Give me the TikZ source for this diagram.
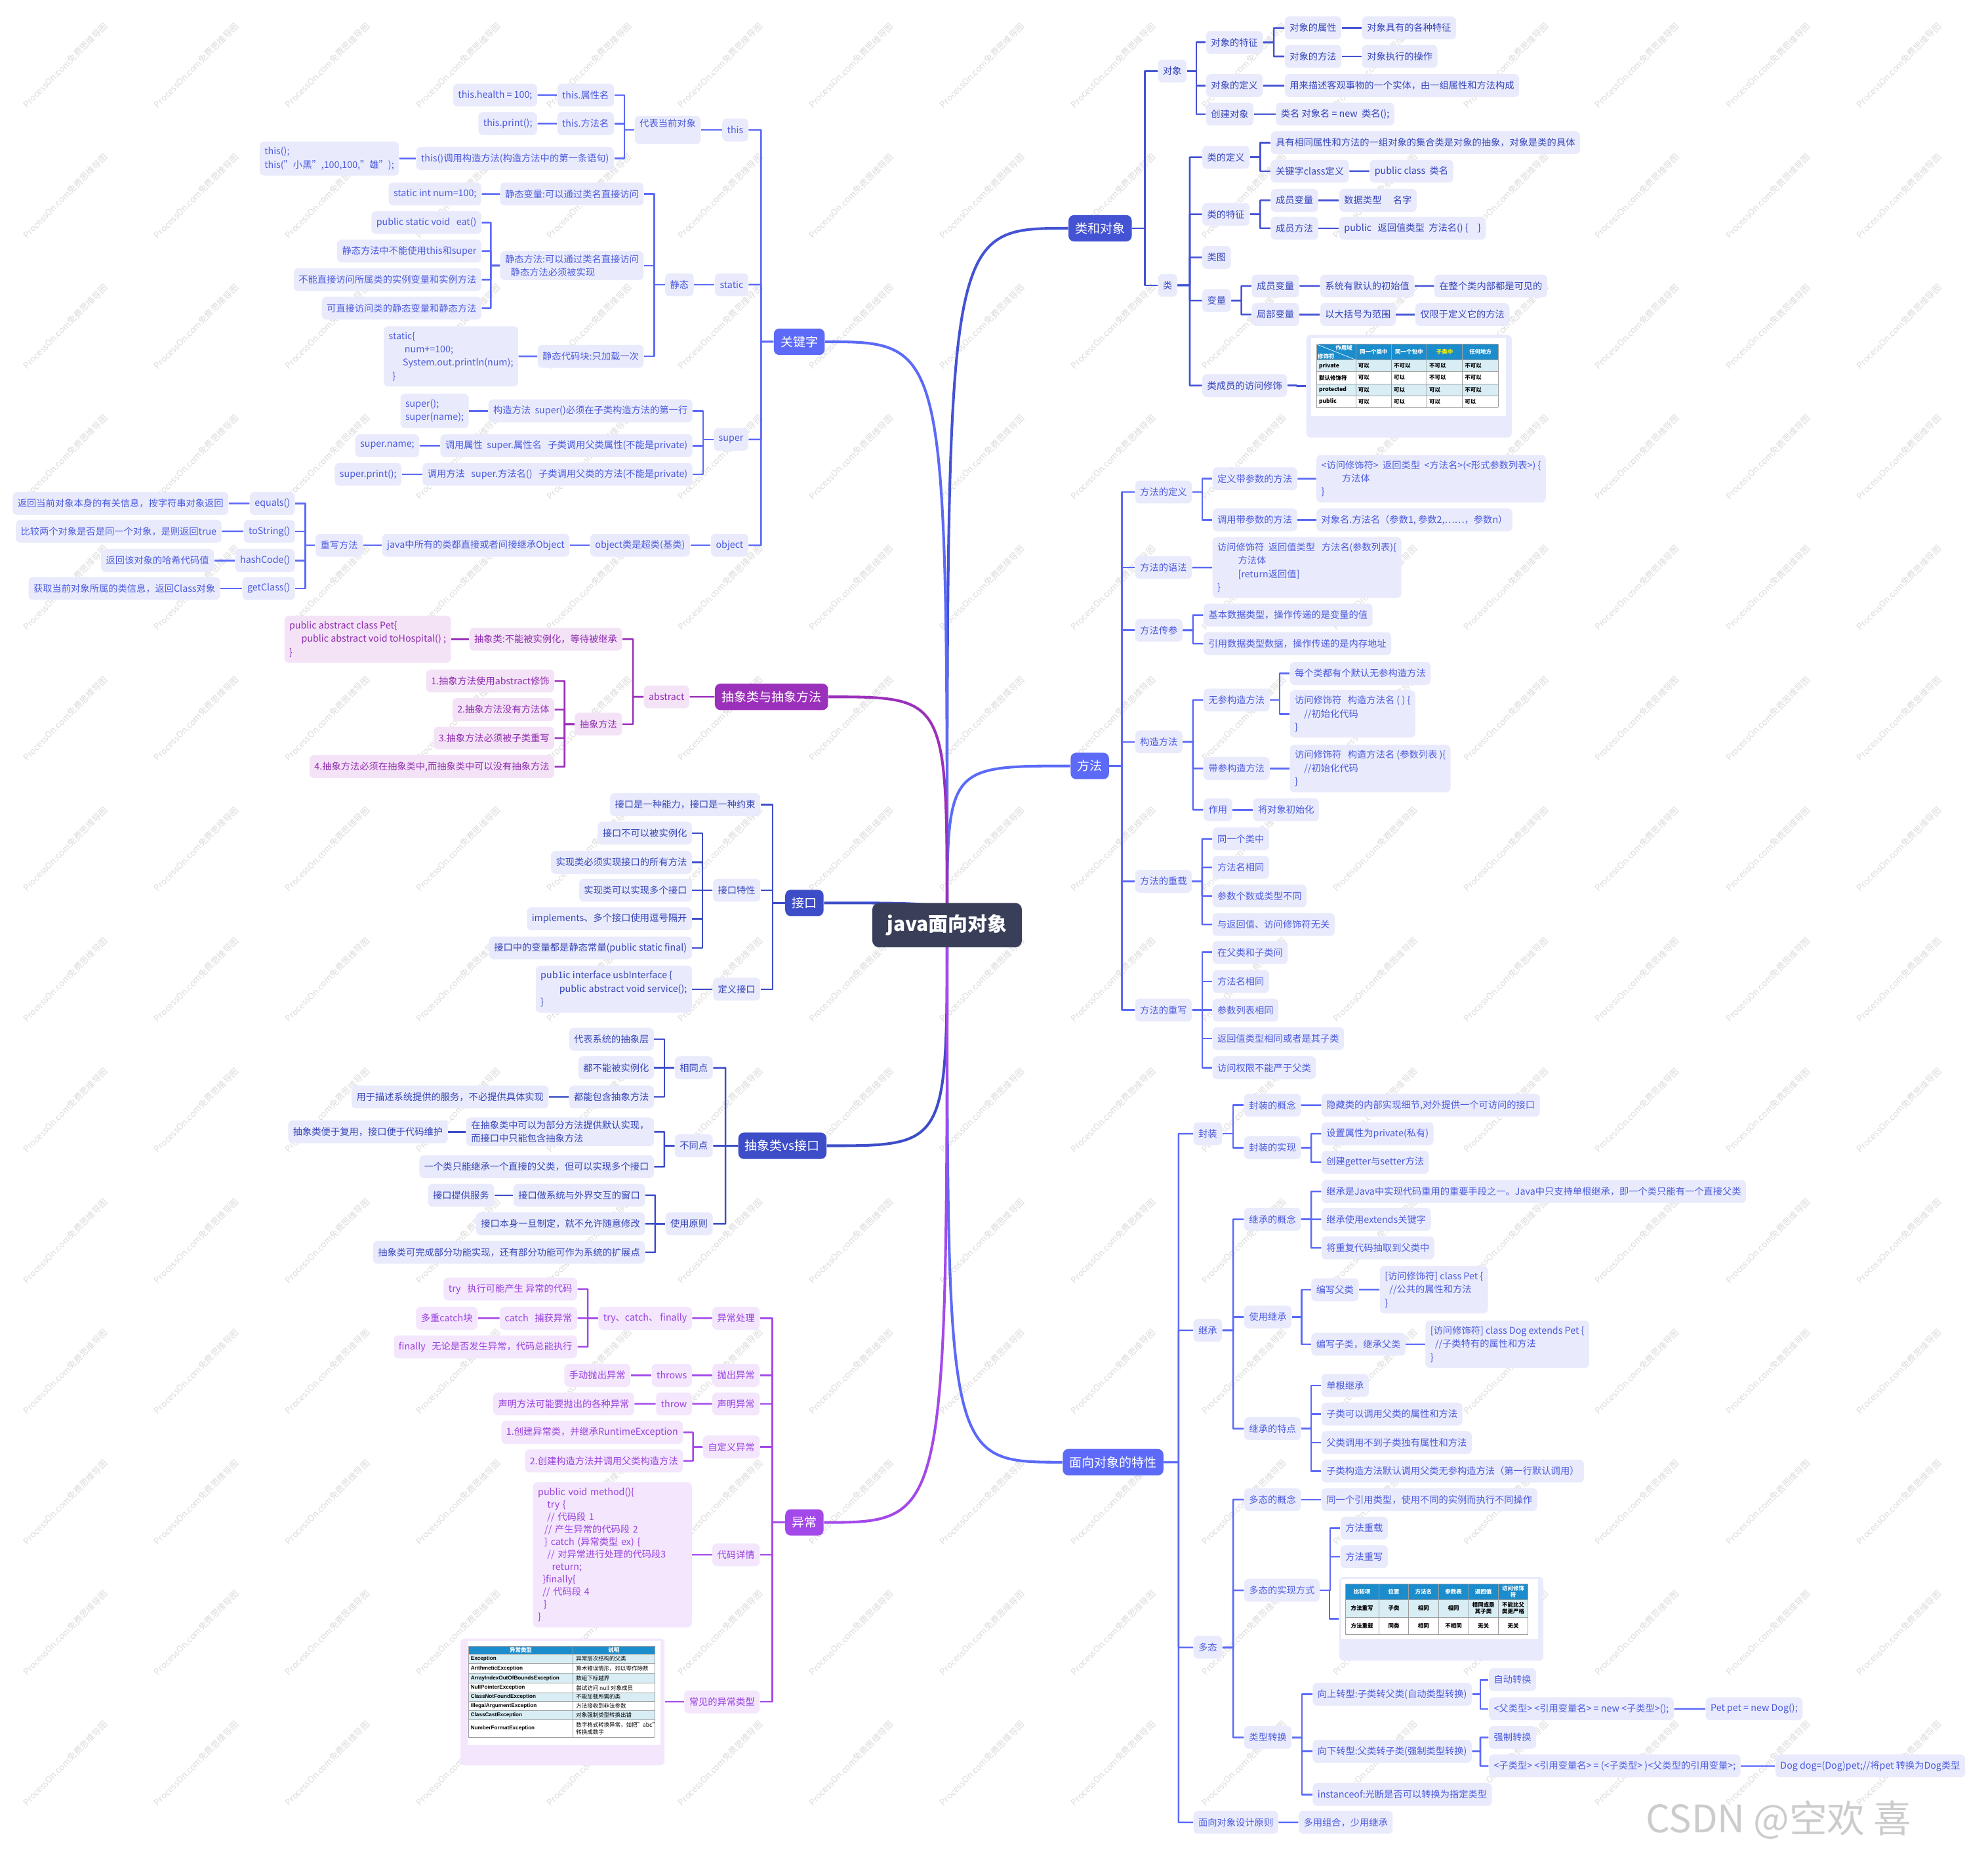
\documentclass[tikz,border=0pt]{standalone}
\usepackage{fontspec}
\setmainfont{Noto Sans CJK SC}
\newfontfamily\tabfont{Liberation Sans}
\usetikzlibrary{calc,backgrounds}

\definecolor{rootbg}{HTML}{3A3F59}
\definecolor{clsln}{HTML}{4453D3}
\definecolor{litln}{HTML}{5C6AF7}
\definecolor{drkln}{HTML}{3D4DC8}
\definecolor{absln}{HTML}{9B30BA}
\definecolor{excln}{HTML}{A449E9}
\definecolor{blubg}{HTML}{E9EBFC}
\definecolor{absbg}{HTML}{F4E3F7}
\definecolor{excbg}{HTML}{F3E6FD}
\definecolor{clstx}{HTML}{3543BA}
\definecolor{littx}{HTML}{4C5ADE}
\definecolor{drktx}{HTML}{3644B8}
\definecolor{abstx}{HTML}{8E2BAE}
\definecolor{exctx}{HTML}{9A41DD}
\definecolor{tabhd}{HTML}{1B8DCC}
\definecolor{tabrow}{HTML}{D8EDF4}
\definecolor{wmark}{HTML}{DCDCDC}

% elbow links between named nodes
\newcommand\linkR[2]{\draw[lk] (#1.east) -- ($(#1.east)!.5!(#1.east -| #2.west)$) |- (#2.west);}
\newcommand\linkL[2]{\draw[lk] (#1.west) -- ($(#1.west)!.5!(#1.west -| #2.east)$) |- (#2.east);}

\begin{document}
\begin{tikzpicture}[x=0.02cm,y=-0.02cm,
  nd/.style={rounded corners=2pt,inner xsep=2.2pt,inner ysep=1.5pt,minimum height=0.36cm,align=left,font=\fontsize{4.2}{6}\selectfont},
  cd/.style={nd,inner ysep=2.5pt},
  aw/.style={anchor=west},ae/.style={anchor=east},
  hd/.style={rounded corners=2.5pt,text=white,minimum height=0.39cm,inner xsep=3pt,font=\fontsize{5.6}{6.6}\selectfont},
  lk/.style={line width=0.75pt,line join=round},
  crv/.style={line width=1.2pt},
  box/.style={inner sep=0pt,rounded corners=2pt},
  tb/.style={inner sep=0pt,align=center,text=black,font=\fontsize{2.5}{3}\selectfont\bfseries},
  grd/.style={draw=gray!75,line width=0.2pt}]
\useasboundingbox (0,0) rectangle (1568,1460);

\node[fill=rootbg,text=white,rounded corners=3pt,minimum width=2.36cm,minimum height=0.7cm,font=\fontsize{8.8}{10}\selectfont\bfseries] (root) at (747,729.5) {java面向对象};

% 类和对象
\begin{scope}[every node/.append style={fill=blubg,text=clstx},lk/.append style={draw=clsln}]
\node[hd,fill=clsln,anchor=east] (lo) at (893,180) {类和对象};
\node[nd,aw] (lo1) at (913,56) {对象};
\node[nd,aw] (lo11) at (951,33.5) {对象的特征};
\node[nd,aw] (lo111) at (1013,22) {对象的属性};
\node[nd,aw] (lo1111) at (1074,22) {对象具有的各种特征};
\node[nd,aw] (lo112) at (1013,44.5) {对象的方法};
\node[nd,aw] (lo1121) at (1074,44.5) {对象执行的操作};
\node[nd,aw] (lo12) at (951,67.5) {对象的定义};
\node[nd,aw] (lo121) at (1013,67.5) {用来描述客观事物的一个实体，由一组属性和方法构成};
\node[nd,aw] (lo13) at (951,90) {创建对象};
\node[nd,aw] (lo131) at (1006,90) {类名 对象名 = new\ \ 类名();};
\node[nd,aw] (lo2) at (913,225) {类};
\node[nd,aw] (lo21) at (948,124) {类的定义};
\node[nd,aw] (lo211) at (1002,112.5) {具有相同属性和方法的一组对象的集合类是对象的抽象，对象是类的具体};
\node[nd,aw] (lo212) at (1002,135) {关键字class定义};
\node[nd,aw] (lo2121) at (1080,135) {public class\ \ 类名};
\node[nd,aw] (lo22) at (948,169) {类的特征};
\node[nd,aw] (lo221) at (1002,158) {成员变量};
\node[nd,aw] (lo2211) at (1056,158) {数据类型\quad\ 名字};
\node[nd,aw] (lo222) at (1002,180) {成员方法};
\node[nd,aw] (lo2221) at (1056,180) {public\ \ \ 返回值类型\ \ 方法名() \{\quad \}};
\node[nd,aw] (lo23) at (948,203) {类图};
\node[nd,aw] (lo24) at (948,237) {变量};
\node[nd,aw] (lo241) at (987,225.5) {成员变量};
\node[nd,aw] (lo2411) at (1041,225.5) {系统有默认的初始值};
\node[nd,aw] (lo2412) at (1131,225.5) {在整个类内部都是可见的};
\node[nd,aw] (lo242) at (987,248) {局部变量};
\node[nd,aw] (lo2421) at (1041,248) {以大括号为范围};
\node[nd,aw] (lo2422) at (1116,248) {仅限于定义它的方法};
\node[nd,aw] (lo25) at (948,304) {类成员的访问修饰};
\node[box,aw,minimum width=3.24cm,minimum height=1.62cm] (lo251) at (1030,304.5) {};
\linkR{lo}{lo1} \linkR{lo}{lo2}
\linkR{lo1}{lo11} \linkR{lo1}{lo12} \linkR{lo1}{lo13}
\linkR{lo11}{lo111} \linkR{lo11}{lo112}
\linkR{lo111}{lo1111} \linkR{lo112}{lo1121} \linkR{lo12}{lo121} \linkR{lo13}{lo131}
\linkR{lo2}{lo21} \linkR{lo2}{lo22} \linkR{lo2}{lo23} \linkR{lo2}{lo24} \linkR{lo2}{lo25}
\linkR{lo21}{lo211} \linkR{lo21}{lo212} \linkR{lo212}{lo2121}
\linkR{lo22}{lo221} \linkR{lo22}{lo222} \linkR{lo221}{lo2211} \linkR{lo222}{lo2221}
\linkR{lo24}{lo241} \linkR{lo24}{lo242} \linkR{lo241}{lo2411} \linkR{lo2411}{lo2412}
\linkR{lo242}{lo2421} \linkR{lo2421}{lo2422}
\linkR{lo25}{lo251}
\end{scope}

% 方法
\begin{scope}[every node/.append style={fill=blubg,text=littx},lk/.append style={draw=litln}]
\node[hd,fill=litln,anchor=east] (mf) at (875,604) {方法};
\node[nd,aw] (mf1) at (895,388) {方法的定义};
\node[nd,aw] (mf11) at (956,377.5) {定义带参数的方法};
\node[cd,aw] (mf111) at (1038,377.5) {<访问修饰符>\ \ 返回类型\ \ <方法名>(<形式参数列表>) \{\\\hspace*{2.2em}方法体\\\}};
\node[nd,aw] (mf12) at (956,410) {调用带参数的方法};
\node[nd,aw] (mf121) at (1038,410) {对象名.方法名（参数1, 参数2,……，参数n）};
\node[nd,aw] (mf2) at (895,447.5) {方法的语法};
\node[cd,aw] (mf21) at (956,447.5) {访问修饰符\ \ 返回值类型\ \ \ 方法名(参数列表)\{\\\hspace*{2.2em}方法体\\\hspace*{2.2em}[return返回值]\\\}};
\node[nd,aw] (mf3) at (895,497) {方法传参};
\node[nd,aw] (mf31) at (949,485) {基本数据类型，操作传递的是变量的值};
\node[nd,aw] (mf32) at (949,507.5) {引用数据类型数据，操作传递的是内存地址};
\node[nd,aw] (mf4) at (895,585) {构造方法};
\node[nd,aw] (mf41) at (949,552) {无参构造方法};
\node[nd,aw] (mf411) at (1017,531) {每个类都有个默认无参构造方法};
\node[cd,aw] (mf412) at (1017,563) {访问修饰符\ \ \ 构造方法名 ( ) \{\\\hspace*{1em}//初始化代码\\\}};
\node[nd,aw] (mf42) at (949,606) {带参构造方法};
\node[cd,aw] (mf421) at (1017,606) {访问修饰符\ \ \ 构造方法名 (参数列表 )\{\\\hspace*{1em}//初始化代码\\\}};
\node[nd,aw] (mf43) at (949,638.5) {作用};
\node[nd,aw] (mf431) at (988,638.5) {将对象初始化};
\node[nd,aw] (mf5) at (895,695) {方法的重载};
\node[nd,aw] (mf51) at (956,661.5) {同一个类中};
\node[nd,aw] (mf52) at (956,684) {方法名相同};
\node[nd,aw] (mf53) at (956,706.5) {参数个数或类型不同};
\node[nd,aw] (mf54) at (956,729) {与返回值、访问修饰符无关};
\node[nd,aw] (mf6) at (895,796.5) {方法的重写};
\node[nd,aw] (mf61) at (956,751) {在父类和子类间};
\node[nd,aw] (mf62) at (956,774) {方法名相同};
\node[nd,aw] (mf63) at (956,796.5) {参数列表相同};
\node[nd,aw] (mf64) at (956,819) {返回值类型相同或者是其子类};
\node[nd,aw] (mf65) at (956,842) {访问权限不能严于父类};
\foreach \c in {mf1,mf2,mf3,mf4,mf5,mf6} {\linkR{mf}{\c}}
\linkR{mf1}{mf11} \linkR{mf1}{mf12} \linkR{mf11}{mf111} \linkR{mf12}{mf121}
\linkR{mf2}{mf21}
\linkR{mf3}{mf31} \linkR{mf3}{mf32}
\linkR{mf4}{mf41} \linkR{mf4}{mf42} \linkR{mf4}{mf43}
\linkR{mf41}{mf411} \linkR{mf41}{mf412} \linkR{mf42}{mf421} \linkR{mf43}{mf431}
\foreach \c in {mf51,mf52,mf53,mf54} {\linkR{mf5}{\c}}
\foreach \c in {mf61,mf62,mf63,mf64,mf65} {\linkR{mf6}{\c}}
\end{scope}

% 面向对象的特性
\begin{scope}[every node/.append style={fill=blubg,text=littx},lk/.append style={draw=litln}]
\node[hd,fill=litln,anchor=east] (tx) at (918,1153) {面向对象的特性};
\node[nd,aw] (tx1) at (941,894) {封装};
\node[nd,aw] (tx11) at (981,871.5) {封装的概念};
\node[nd,aw] (tx111) at (1042,871.5) {隐藏类的内部实现细节,对外提供一个可访问的接口};
\node[nd,aw] (tx12) at (981,905) {封装的实现};
\node[nd,aw] (tx121) at (1042,894) {设置属性为private(私有)};
\node[nd,aw] (tx122) at (1042,916.5) {创建getter与setter方法};
\node[nd,aw] (tx2) at (941,1049) {继承};
\node[nd,aw] (tx21) at (981,961.5) {继承的概念};
\node[nd,aw] (tx211) at (1042,939.5) {继承是Java中实现代码重用的重要手段之一。Java中只支持单根继承，即一个类只能有一个直接父类};
\node[nd,aw] (tx212) at (1042,961.5) {继承使用extends关键字};
\node[nd,aw] (tx213) at (1042,984) {将重复代码抽取到父类中};
\node[nd,aw] (tx22) at (981,1038.5) {使用继承};
\node[nd,aw] (tx221) at (1034,1017) {编写父类};
\node[cd,aw] (tx2211) at (1088,1017) {[访问修饰符] class Pet \{\\\hspace*{0.5em}//公共的属性和方法\\\}};
\node[nd,aw] (tx222) at (1034,1060) {编写子类，继承父类};
\node[cd,aw] (tx2221) at (1124,1060) {[访问修饰符] class Dog extends Pet \{\\\hspace*{0.5em}//子类特有的属性和方法\\\}};
\node[nd,aw] (tx23) at (981,1126.5) {继承的特点};
\node[nd,aw] (tx231) at (1042,1092.5) {单根继承};
\node[nd,aw] (tx232) at (1042,1115) {子类可以调用父类的属性和方法};
\node[nd,aw] (tx233) at (1042,1137.5) {父类调用不到子类独有属性和方法};
\node[nd,aw] (tx234) at (1042,1160) {子类构造方法默认调用父类无参构造方法（第一行默认调用）};
\node[nd,aw] (tx3) at (941,1299) {多态};
\node[nd,aw] (tx31) at (981,1182.5) {多态的概念};
\node[nd,aw] (tx311) at (1042,1182.5) {同一个引用类型，使用不同的实例而执行不同操作};
\node[nd,aw] (tx32) at (981,1254) {多态的实现方式};
\node[nd,aw] (tx321) at (1057,1205) {方法重载};
\node[nd,aw] (tx322) at (1057,1227.5) {方法重写};
\node[box,aw,minimum width=3.22cm,minimum height=1.32cm] (tx323) at (1056,1276.5) {};
\node[nd,aw] (tx33) at (981,1370) {类型转换};
\node[nd,aw] (tx331) at (1035,1336) {向上转型:子类转父类(自动类型转换)};
\node[nd,aw] (tx3311) at (1174,1324.5) {自动转换};
\node[nd,aw] (tx3312) at (1174,1347.5) {<父类型> <引用变量名> = new <子类型>();};
\node[nd,aw] (tx3313) at (1345,1347.5) {Pet pet = new Dog();};
\node[nd,aw] (tx332) at (1035,1381) {向下转型:父类转子类(强制类型转换)};
\node[nd,aw] (tx3321) at (1174,1370) {强制转换};
\node[nd,aw] (tx3322) at (1174,1392.5) {<子类型> <引用变量名> = (<子类型> )<父类型的引用变量>;};
\node[nd,aw] (tx3323) at (1400,1392.5) {Dog dog=(Dog)pet;//将pet 转换为Dog类型};
\node[nd,aw] (tx333) at (1035,1415) {instanceof:光断是否可以转换为指定类型};
\node[nd,aw] (tx4) at (941,1437) {面向对象设计原则};
\node[nd,aw] (tx41) at (1024,1437) {多用组合，少用继承};
\foreach \c in {tx1,tx2,tx3,tx4} {\linkR{tx}{\c}}
\linkR{tx1}{tx11} \linkR{tx1}{tx12} \linkR{tx11}{tx111} \linkR{tx12}{tx121} \linkR{tx12}{tx122}
\linkR{tx2}{tx21} \linkR{tx2}{tx22} \linkR{tx2}{tx23}
\linkR{tx21}{tx211} \linkR{tx21}{tx212} \linkR{tx21}{tx213}
\linkR{tx22}{tx221} \linkR{tx22}{tx222} \linkR{tx221}{tx2211} \linkR{tx222}{tx2221}
\foreach \c in {tx231,tx232,tx233,tx234} {\linkR{tx23}{\c}}
\linkR{tx3}{tx31} \linkR{tx3}{tx32} \linkR{tx3}{tx33} \linkR{tx31}{tx311}
\linkR{tx32}{tx321} \linkR{tx32}{tx322} \linkR{tx32}{tx323}
\linkR{tx33}{tx331} \linkR{tx33}{tx332} \linkR{tx33}{tx333}
\linkR{tx331}{tx3311} \linkR{tx331}{tx3312} \linkR{tx3312}{tx3313}
\linkR{tx332}{tx3321} \linkR{tx332}{tx3322} \linkR{tx3322}{tx3323}
\linkR{tx4}{tx41}
\end{scope}

% 关键字
\begin{scope}[every node/.append style={fill=blubg,text=littx},lk/.append style={draw=litln}]
\node[hd,fill=litln,anchor=west] (gj) at (610,269.5) {关键字};
\node[nd,ae] (gj1) at (590.5,102.5) {this};
\node[nd,ae] (gj11) at (553,102.5) {代表当前对象\\\mbox{}};
\node[nd,ae] (gj111) at (484.5,75) {this.属性名};
\node[nd,ae] (gj1111) at (424,75) {this.health = 100;};
\node[nd,ae] (gj112) at (484.5,97.5) {this.方法名};
\node[nd,ae] (gj1121) at (424,97.5) {this.print();};
\node[nd,ae] (gj113) at (484.5,125) {this()调用构造方法(构造方法中的第一条语句)};
\node[cd,ae] (gj1131) at (315,125) {this();\\this("小黑",100,100,"雄");};
\node[nd,ae] (gj2) at (590.5,224.5) {static};
\node[nd,ae] (gj21) at (547.5,224.5) {静态};
\node[nd,ae] (gj211) at (508,153) {静态变量:可以通过类名直接访问};
\node[nd,ae] (gj2111) at (380,153) {static int num=100;};
\node[nd,ae] (gj212) at (508,209.5) {静态方法:可以通过类名直接访问\\\hspace*{0.6em}静态方法必须被实现};
\node[nd,ae] (gj2121) at (380,175.5) {public static void\ \ \ eat()};
\node[nd,ae] (gj2122) at (380,198) {静态方法中不能使用this和super};
\node[nd,ae] (gj2123) at (380,220.5) {不能直接访问所属类的实例变量和实例方法};
\node[nd,ae] (gj2124) at (380,243) {可直接访问类的静态变量和静态方法};
\node[nd,ae] (gj213) at (508,281) {静态代码块:只加载一次};
\node[cd,ae] (gj2131) at (409,281) {static\{\\\hspace*{1.7em}num+=100;\\\hspace*{1.5em}System.out.println(num);\\\hspace*{0.4em}\}};
\node[nd,ae] (gj3) at (590.5,346.5) {super};
\node[nd,ae] (gj31) at (546.5,324) {构造方法\ \ super()必须在子类构造方法的第一行};
\node[cd,ae] (gj311) at (370,324) {super();\\super(name);};
\node[nd,ae] (gj32) at (546.5,351.5) {调用属性\ \ super.属性名\ \ \ 子类调用父类属性(不能是private)};
\node[nd,ae] (gj321) at (331,351.5) {super.name;};
\node[nd,ae] (gj33) at (546.5,374) {调用方法\ \ \ super.方法名()\ \ \ 子类调用父类的方法(不能是private)};
\node[nd,ae] (gj331) at (317,374) {super.print();};
\node[nd,ae] (gj4) at (590.5,430) {object};
\node[nd,ae] (gj41) at (544.5,430) {object类是超类(基类)};
\node[nd,ae] (gj411) at (449.5,430) {java中所有的类都直接或者间接继承Object};
\node[nd,ae] (gj412) at (286.5,430) {重写方法};
\node[nd,ae] (gj4121) at (233,397) {equals()};
\node[nd,ae] (gj4122) at (233,419) {toString()};
\node[nd,ae] (gj4123) at (233,442) {hashCode()};
\node[nd,ae] (gj4124) at (233,464) {getClass()};
\node[nd,ae] (gj4131) at (180.5,397) {返回当前对象本身的有关信息，按字符串对象返回};
\node[nd,ae] (gj4132) at (175,419) {比较两个对象是否是同一个对象，是则返回true};
\node[nd,ae] (gj4133) at (169,442) {返回该对象的哈希代码值};
\node[nd,ae] (gj4134) at (174,464) {获取当前对象所属的类信息，返回Class对象};
\foreach \c in {gj1,gj2,gj3,gj4} {\linkL{gj}{\c}}
\linkL{gj1}{gj11} \linkL{gj11}{gj111} \linkL{gj11}{gj112} \linkL{gj11}{gj113}
\linkL{gj111}{gj1111} \linkL{gj112}{gj1121} \linkL{gj113}{gj1131}
\linkL{gj2}{gj21} \linkL{gj21}{gj211} \linkL{gj21}{gj212} \linkL{gj21}{gj213}
\linkL{gj211}{gj2111} \linkL{gj213}{gj2131}
\foreach \c in {gj2121,gj2122,gj2123,gj2124} {\linkL{gj212}{\c}}
\linkL{gj3}{gj31} \linkL{gj3}{gj32} \linkL{gj3}{gj33}
\linkL{gj31}{gj311} \linkL{gj32}{gj321} \linkL{gj33}{gj331}
\linkL{gj4}{gj41} \linkL{gj41}{gj411} \linkL{gj411}{gj412}
\foreach \k in {1,2,3,4} {\linkL{gj412}{gj412\k} \linkL{gj412\k}{gj413\k}}
\end{scope}

% 抽象类与抽象方法
\begin{scope}[every node/.append style={fill=absbg,text=abstx},lk/.append style={draw=absln}]
\node[hd,fill=absln,anchor=west] (cx) at (563.5,549.5) {抽象类与抽象方法};
\node[nd,ae] (cx1) at (544,549.5) {abstract};
\node[nd,ae] (cx11) at (491,504) {抽象类:不能被实例化，等待被继承};
\node[cd,ae] (cx111) at (356,504) {public abstract class Pet\{\\\hspace*{1.3em}public abstract void toHospital() ;\\\}};
\node[nd,ae] (cx12) at (491,571) {抽象方法};
\node[nd,ae] (cx121) at (437.5,537) {1.抽象方法使用abstract修饰};
\node[nd,ae] (cx122) at (437.5,559.5) {2.抽象方法没有方法体};
\node[nd,ae] (cx123) at (437.5,582) {3.抽象方法必须被子类重写};
\node[nd,ae] (cx124) at (437.5,604.5) {4.抽象方法必须在抽象类中,而抽象类中可以没有抽象方法};
\linkL{cx}{cx1} \linkL{cx1}{cx11} \linkL{cx1}{cx12} \linkL{cx11}{cx111}
\foreach \c in {cx121,cx122,cx123,cx124} {\linkL{cx12}{\c}}
\end{scope}

% 接口
\begin{scope}[every node/.append style={fill=blubg,text=drktx},lk/.append style={draw=drkln}]
\node[hd,fill=drkln,anchor=west] (jk) at (619,712) {接口};
\node[nd,ae] (jk1) at (600,634.5) {接口是一种能力，接口是一种约束};
\node[nd,ae] (jk2) at (600,702) {接口特性};
\node[nd,ae] (jk21) at (546,657) {接口不可以被实例化};
\node[nd,ae] (jk22) at (546,680) {实现类必须实现接口的所有方法};
\node[nd,ae] (jk23) at (546,702) {实现类可以实现多个接口};
\node[nd,ae] (jk24) at (546,724.5) {implements、多个接口使用逗号隔开};
\node[nd,ae] (jk25) at (546,747.5) {接口中的变量都是静态常量(public static final)};
\node[nd,ae] (jk3) at (600,780) {定义接口};
\node[cd,ae] (jk31) at (546,780) {pub1ic interface usbInterface \{\\\hspace*{2em}public abstract void service();\\\}};
\linkL{jk}{jk1} \linkL{jk}{jk2} \linkL{jk}{jk3} \linkL{jk3}{jk31}
\foreach \c in {jk21,jk22,jk23,jk24,jk25} {\linkL{jk2}{\c}}
\end{scope}

% 抽象类vs接口
\begin{scope}[every node/.append style={fill=blubg,text=drktx},lk/.append style={draw=drkln}]
\node[hd,fill=drkln,anchor=west] (vs) at (582,903.5) {抽象类vs接口};
\node[nd,ae] (vs1) at (562.5,842) {相同点};
\node[nd,ae] (vs11) at (516,819.5) {代表系统的抽象层};
\node[nd,ae] (vs12) at (516,842) {都不能被实例化};
\node[nd,ae] (vs13) at (516,865) {都能包含抽象方法};
\node[nd,ae] (vs131) at (433,865) {用于描述系统提供的服务，不必提供具体实现};
\node[nd,ae] (vs2) at (562.5,903.5) {不同点};
\node[nd,ae] (vs21) at (516,892.5) {在抽象类中可以为部分方法提供默认实现，\\而接口中只能包含抽象方法};
\node[nd,ae] (vs211) at (353.5,892.5) {抽象类便于复用，接口便于代码维护};
\node[nd,ae] (vs22) at (516,920) {一个类只能继承一个直接的父类，但可以实现多个接口};
\node[nd,ae] (vs3) at (562.5,965) {使用原则};
\node[nd,ae] (vs31) at (509,942.5) {接口做系统与外界交互的窗口};
\node[nd,ae] (vs311) at (390,942.5) {接口提供服务};
\node[nd,ae] (vs32) at (509,965) {接口本身一旦制定，就不允许随意修改};
\node[nd,ae] (vs33) at (509,987.5) {抽象类可完成部分功能实现，还有部分功能可作为系统的扩展点};
\linkL{vs}{vs1} \linkL{vs}{vs2} \linkL{vs}{vs3}
\linkL{vs1}{vs11} \linkL{vs1}{vs12} \linkL{vs1}{vs13} \linkL{vs13}{vs131}
\linkL{vs2}{vs21} \linkL{vs2}{vs22} \linkL{vs21}{vs211}
\linkL{vs3}{vs31} \linkL{vs3}{vs32} \linkL{vs3}{vs33} \linkL{vs31}{vs311}
\end{scope}

% 异常
\begin{scope}[every node/.append style={fill=excbg,text=exctx},lk/.append style={draw=excln}]
\node[hd,fill=excln,anchor=west] (yc) at (619,1200.5) {异常};
\node[nd,ae] (yc1) at (599.5,1039.5) {异常处理};
\node[nd,ae] (yc11) at (546,1039.5) {try、catch、 finally};
\node[nd,ae] (yc111) at (455.5,1016.5) {try\ \ \ 执行可能产生 异常的代码};
\node[nd,ae] (yc112) at (455.5,1039.5) {catch\ \ \ 捕获异常};
\node[nd,ae] (yc1121) at (377,1039.5) {多重catch块};
\node[nd,ae] (yc113) at (455.5,1062) {finally\ \ \ 无论是否发生异常，代码总能执行};
\node[nd,ae] (yc2) at (599.5,1084.5) {抛出异常};
\node[nd,ae] (yc21) at (546,1084.5) {throws};
\node[nd,ae] (yc211) at (497.5,1084.5) {手动抛出异常};
\node[nd,ae] (yc3) at (599.5,1107) {声明异常};
\node[nd,ae] (yc31) at (546,1107) {throw};
\node[nd,ae] (yc311) at (500.5,1107) {声明方法可能要抛出的各种异常};
\node[nd,ae] (yc4) at (599.5,1141) {自定义异常};
\node[nd,ae] (yc41) at (539,1129.5) {1.创建异常类，并继承RuntimeException};
\node[nd,ae] (yc42) at (539,1152) {2.创建构造方法并调用父类构造方法};
\node[nd,ae] (yc5) at (599.5,1226) {代码详情};
\node[cd,ae,text width=2.35cm,font=\fontsize{4.2}{5.6}\selectfont] (yc51) at (546,1226) {public void method()\{\\\hspace*{1em}try \{\\\hspace*{1em}// 代码段 1\\\hspace*{0.7em}// 产生异常的代码段 2\\\hspace*{0.7em}\} catch (异常类型 ex) \{\\\hspace*{1em}// 对异常进行处理的代码段3\\\hspace*{1.5em}return;\\\hspace*{0.5em}\}finally\{\\\hspace*{0.5em}// 代码段 4\\\hspace*{0.6em}\}\\\}};
\node[nd,ae] (yc6) at (599.5,1342) {常见的异常类型};
\node[box,ae,minimum width=3.22cm,minimum height=2cm] (yc61) at (524.5,1342) {};
\foreach \c in {yc1,yc2,yc3,yc4,yc5,yc6} {\linkL{yc}{\c}}
\linkL{yc1}{yc11} \linkL{yc11}{yc111} \linkL{yc11}{yc112} \linkL{yc11}{yc113} \linkL{yc112}{yc1121}
\linkL{yc2}{yc21} \linkL{yc21}{yc211} \linkL{yc3}{yc31} \linkL{yc31}{yc311}
\linkL{yc4}{yc41} \linkL{yc4}{yc42} \linkL{yc5}{yc51} \linkL{yc6}{yc61}
\end{scope}

% 访问修饰符表
\fill[white] (1034,266.5) rectangle (1188,328);
\fill[tabhd] (1038.5,271.5) rectangle (1181.8,283.8);
\fill[tabrow] (1038.5,283.8) rectangle (1181.8,293.2);
\fill[tabrow] (1038.5,302.6) rectangle (1181.8,312);
\foreach \x in {1038.5,1069.4,1097.4,1125.4,1153.5,1181.8} \draw[grd] (\x,271.5) -- (\x,321.4);
\foreach \y in {271.5,283.8,293.2,302.6,312,321.4} \draw[grd] (1038.5,\y) -- (1181.8,\y);
\draw[grd,draw=white] (1038.5,271.5) -- (1069.4,283.8);
\node[tb,text=white] (ah0a) at (1060,274.5) {作用域};
\node[tb,text=white] (ah0b) at (1046,280.8) {修饰符};
\node[tb,text=white] (ah1) at (1083.4,277.6) {同一个类中};
\node[tb,text=white] (ah2) at (1111.4,277.6) {同一个包中};
\node[tb,text=yellow] (ah3) at (1139.5,277.6) {子类中};
\node[tb,text=white] (ah4) at (1167.7,277.6) {任何地方};
\foreach \y/\a/\b/\c/\d/\e [count=\k] in {288.5/private/可以/不可以/不可以/不可以,297.9/默认修饰符/可以/可以/不可以/不可以,307.3/protected/可以/可以/可以/不可以,316.7/public/可以/可以/可以/可以}{
  \node[tb,anchor=west] (ac\k-a) at (1040,\y) {\a};
  \node[tb,anchor=west] (ac\k-b) at (1071,\y) {\b};
  \node[tb,anchor=west] (ac\k-c) at (1099,\y) {\c};
  \node[tb,anchor=west] (ac\k-d) at (1127,\y) {\d};
  \node[tb,anchor=west] (ac\k-e) at (1155,\y) {\e};
}

% 重写与重载对比表
\fill[white] (1057.8,1245.3) rectangle (1213.3,1292.5);
\fill[tabhd] (1061.1,1249) rectangle (1205.2,1261.3);
\fill[tabrow] (1061.1,1261.3) rectangle (1205.2,1275.2);
\foreach \x in {1061.1,1087.5,1111,1134.6,1158.2,1181.7,1205.2} \draw[grd] (\x,1249) -- (\x,1288.7);
\foreach \y in {1249,1261.3,1275.2,1288.7} \draw[grd] (1061.1,\y) -- (1205.2,\y);
\foreach \x/\t [count=\k] in {1074.3/比较项,1099.3/位置,1122.8/方法名,1146.4/参数表,1170/返回值,1193.5/{访问修饰\\符}}
  \node[tb,text=white] (pa\k) at (\x,1255.2) {\t};
\foreach \x/\t [count=\k] in {1074.3/方法重写,1099.3/子类,1122.8/相同,1146.4/相同,1170/{相同或是\\其子类},1193.5/{不能比父\\类更严格}}
  \node[tb] (pb\k) at (\x,1268.2) {\t};
\foreach \x/\t [count=\k] in {1074.3/方法重载,1099.3/同类,1122.8/相同,1146.4/不相同,1170/无关,1193.5/无关}
  \node[tb] (pc\k) at (\x,1282) {\t};

% 常见异常表
\fill[white] (369,1294) rectangle (521,1376);
\fill[tabhd] (369.5,1298) rectangle (516.4,1304.4);
\foreach \ya/\yb in {1304.4/1311.8,1319.3/1327.3,1334.6/1341.7,1348.7/1356} \fill[tabrow] (369.5,\ya) rectangle (516.4,\yb);
\foreach \y in {1298,1304.4,1311.8,1319.3,1327.3,1334.6,1341.7,1348.7,1356,1369.8} \draw[grd] (369.5,\y) -- (516.4,\y);
\foreach \x in {369.5,452,516.4} \draw[grd] (\x,1298) -- (\x,1369.8);
\node[tb,text=white] (eh1) at (410.75,1301.2) {异常类型};
\node[tb,text=white] (eh2) at (484.2,1301.2) {说明};
\foreach \y/\n/\d [count=\k] in {1308.1/Exception/异常层次结构的父类,1315.55/ArithmeticException/算术错误情形，如以零作除数,1323.3/ArrayIndexOutOfBoundsException/数组下标越界,1330.95/NullPointerException/尝试访问 null 对象成员,1338.15/ClassNotFoundException/不能加载所需的类,1345.2/IllegalArgumentException/方法接收到非法参数,1352.35/ClassCastException/对象强制类型转换出错,1362.9/NumberFormatException/{数字格式转换异常，如把"abc"\\转换成数字}}{
  \node[tb,anchor=west,font=\fontsize{2.4}{3}\selectfont\tabfont\bfseries] (et\k-a) at (371,\y) {\n};
  \node[tb,anchor=west,align=left,font=\fontsize{2.5}{3.2}\selectfont] (et\k-b) at (454,\y) {\d};
}

\node[anchor=west,text=gray!40,font=\fontsize{17}{17}\selectfont] (csdn) at (1292,1435) {CSDN @空欢\ 喜};

\begin{scope}[on background layer]
\fill[white] (0,0) rectangle (1568,1460);
\foreach \i in {0,...,14} \foreach \j in {0,...,13}
  \node[rotate=45,text=wmark,inner sep=0pt,font=\fontsize{3.9}{4}\selectfont] (wm\i-\j) at ({51.5+103.3*\i},{51.5+103*\j}) {ProcessOn.com免费思维导图};
\draw[crv,clsln] (root.center) .. controls (root.center |- lo.west) .. (lo.west);
\draw[crv,litln] (root.center) .. controls (root.center |- mf.west) .. (mf.west);
\draw[crv,litln] (root.center) .. controls (root.center |- tx.west) .. (tx.west);
\draw[crv,litln] (root.center) .. controls (root.center |- gj.east) .. (gj.east);
\draw[crv,absln] (root.center) .. controls (root.center |- cx.east) .. (cx.east);
\draw[crv,drkln] (root.center) .. controls (root.center |- jk.east) .. (jk.east);
\draw[crv,drkln] (root.center) .. controls (root.center |- vs.east) .. (vs.east);
\draw[crv,excln] (root.center) .. controls (root.center |- yc.east) .. (yc.east);
\end{scope}
\end{tikzpicture}
\end{document}
